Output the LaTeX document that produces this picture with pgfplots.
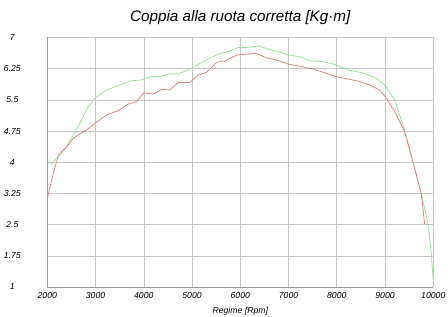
\documentclass[border=0pt]{standalone}
\usepackage{fontspec}
\setmainfont{Liberation Sans}
\usepackage{pgfplots}
\pgfplotsset{compat=1.18}
\definecolor{cgreen}{RGB}{145,228,145}
\definecolor{cred}{RGB}{228,125,125}
\definecolor{cgrid}{RGB}{200,200,200}
\definecolor{caxis}{RGB}{150,150,150}
\begin{document}
\begin{tikzpicture}
\path[use as bounding box] (0,0) rectangle (448bp,317bp);
\begin{axis}[
  at={(47.3bp,30bp)}, anchor=south west,
  scale only axis, width=386bp, height=249.5bp,
  xmin=2000, xmax=10000, ymin=1, ymax=7,
  xtick={2000,3000,...,10000},
  ytick={1,1.75,2.5,3.25,4,4.75,5.5,6.25,7},
  yticklabels={1,1.75,2.5,3.25,4,4.75,5.5,6.25,7},
  xticklabels={2000,3000,4000,5000,6000,7000,8000,9000,10000},
  major tick length=0pt,
  grid=major,
  major grid style={cgrid, line width=0.6pt},
  axis x line*=bottom, axis y line*=left,
  axis line style={caxis, line width=0.7pt, -},
  ticklabel style={font=\fontsize{8.7}{10}\selectfont\itshape},
  yticklabel style={anchor=center, xshift=-35bp},
  xticklabel style={anchor=center, yshift=-9bp},
  scaled ticks=false,
  /pgf/number format/assume math mode=true,
  title={Coppia alla ruota corretta [Kg·m]},
  title style={font=\fontsize{15.3}{18}\selectfont\itshape, at={(0.5,1)}, anchor=center, yshift=13.5bp},
  xlabel={Regime [Rpm]},
  xlabel style={font=\fontsize{8.7}{10}\selectfont\itshape, at={(0.5,0)}, anchor=center, yshift=-24bp},
]
\addplot[cgreen, line width=0.75pt] coordinates {
(2000,4.00) (2090,3.97) (2263,4.17) (2400,4.38) (2540,4.66) (2712,5.02) (2850,5.34) (2990,5.54)
(3230,5.74) (3505,5.86) (3745,5.96) (3955,5.98) (4160,6.06) (4333,6.06) (4505,6.12) (4712,6.12)
(4990,6.26) (5230,6.42) (5540,6.60) (5747,6.66) (5955,6.76) (6160,6.76) (6370,6.80) (6575,6.72)
(6783,6.66) (6990,6.58) (7232,6.54) (7440,6.44) (7715,6.42) (7990,6.34) (8230,6.22) (8543,6.15)
(8820,6.02) (8990,5.86) (9200,5.50) (9405,4.78) (9578,4.01) (9750,3.25) (9890,2.53) (9958,1.81) (10000,1.12)
};
\addplot[cred, line width=0.75pt] coordinates {
(2000,3.13) (2125,3.73) (2230,4.17) (2400,4.37) (2540,4.58) (2815,4.78) (2990,4.94) (3230,5.14)
(3470,5.24) (3677,5.40) (3850,5.46) (4000,5.67) (4195,5.64) (4370,5.75) (4540,5.74) (4712,5.92)
(4955,5.92) (5126,6.10) (5300,6.16) (5507,6.40) (5680,6.44) (5934,6.58) (6128,6.60) (6335,6.62)
(6542,6.51) (6750,6.46) (6990,6.36) (7232,6.31) (7507,6.24) (7990,6.06) (8405,5.96) (8680,5.86)
(8888,5.74) (9027,5.54) (9200,5.22) (9337,4.90) (9405,4.73) (9578,4.01) (9750,3.25) (9820,2.52)
};
\end{axis}
\end{tikzpicture}
\end{document}
